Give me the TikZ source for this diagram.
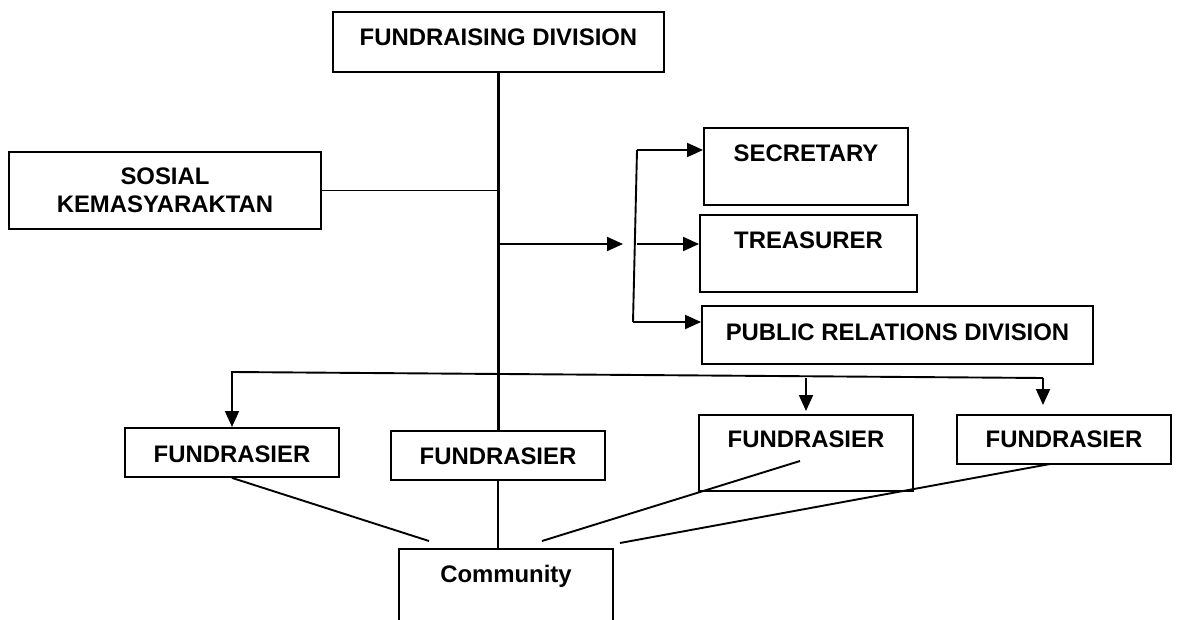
\documentclass[tikz,border=0pt]{standalone}
\usepackage{fontspec}
\setmainfont{Liberation Sans}
\usetikzlibrary{arrows.meta}

\begin{document}
\begin{tikzpicture}[x=1pt,y=-1pt,
  unit/.style={draw,line width=1.9pt,inner sep=0pt,minimum height=0pt,font=\bfseries\fontsize{23.9}{28}\selectfont},
  link/.style={line width=1.9pt},
  feed/.style={line width=1.9pt,-{Triangle[length=16pt,width=14pt]}}]
\useasboundingbox (0,0) rectangle (1177,620);

\node[unit,anchor=north,minimum width=331pt,text height=33.5pt,text depth=26.5pt] (FD) at (498.5,11) {FUNDRAISING DIVISION};
\node[unit,align=center,minimum width=312pt,minimum height=77pt] (SK) at (165,190.5) {SOSIAL\\KEMASYARAKTAN};
\node[unit,anchor=north,minimum width=204pt,text height=33.5pt,text depth=43.5pt] (SE) at (806,127) {SECRETARY};
\node[unit,anchor=north,minimum width=217pt,text height=33.5pt,text depth=43.5pt] (TR) at (808.5,214) {TREASURER};
\node[unit,anchor=north,minimum width=391pt,text height=34.5pt,text depth=23.5pt] (PR) at (897.5,305) {PUBLIC RELATIONS DIVISION};
\node[unit,anchor=north,minimum width=214pt,text height=34.5pt,text depth=14.5pt] (F1) at (232,427) {FUNDRASIER};
\node[unit,anchor=north,minimum width=214pt,text height=33.5pt,text depth=15.5pt] (F2) at (498,430) {FUNDRASIER};
\node[unit,anchor=north,minimum width=214pt,text height=32.5pt,text depth=43.5pt] (F3) at (806,414) {FUNDRASIER};
\node[unit,anchor=north,minimum width=214pt,text height=32.5pt,text depth=16.5pt] (F4) at (1064,414) {FUNDRASIER};
\node[unit,anchor=north,minimum width=214pt,text height=33.5pt,text depth=78.5pt] (CM) at (506,548) {Community};

\coordinate (split) at (623,244);
\coordinate (bt) at (637,150);
\coordinate (bb) at (633,322);
\coordinate (hl) at (232,372);
\coordinate (hr) at (1043,378);
\coordinate (f3s) at (800,461);
\coordinate (f4s) at (1050,464);
\coordinate (c1) at (429,541);
\coordinate (c3) at (542,541);
\coordinate (c4) at (620,543);

\draw[link,line width=2.4pt] (FD.south) -- (FD.south |- F2.north);
\draw[link] (SK.east) -- (SK.east -| FD.south);
\draw[feed] (FD.south |- split) -- (split);
\draw[link] (bt) -- (bb);
\draw[feed] (bt) -- (bt -| SE.west);
\draw[feed] (bt |- split) -- (split -| TR.west);
\draw[feed] (bb) -- (bb -| PR.west);
\draw[feed] (hr) -- (hl) -- (F1.north);
\draw[feed,shorten >=3pt] (F3.north |- hr) -- (F3.north);
\draw[feed,shorten >=9pt] (hr) -- (hr |- F4.north);
\draw[link] (F1.south) -- (c1);
\draw[link] (F2.south) -- (F2.south |- CM.north);
\draw[link] (f3s) -- (c3);
\draw[link] (f4s) -- (c4);
\end{tikzpicture}
\end{document}
